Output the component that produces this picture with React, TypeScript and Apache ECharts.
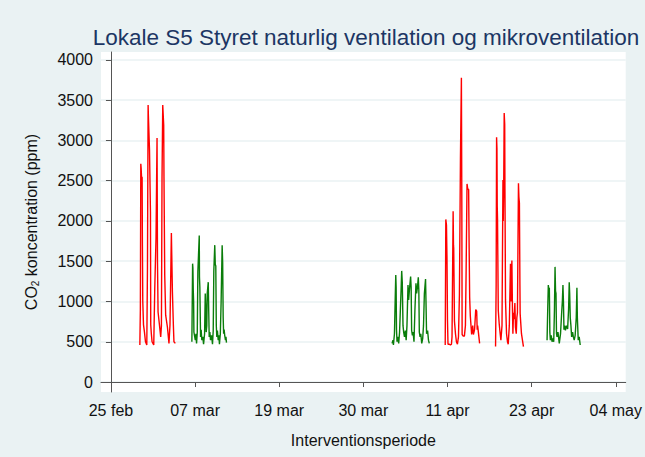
import React, { useEffect, useRef } from "react";
import * as echarts from "echarts";

// x values: days after 25 feb; y values: CO2 ppm
const tickDays = [0, 11.5, 23, 34.5, 46, 57.5, 69];
const tickLabels = ["25 feb", "07 mar", "19 mar", "30 mar", "11 apr", "23 apr", "04 may"];
const yTicks = [0, 500, 1000, 1500, 2000, 2500, 3000, 3500, 4000];

const red1 = [
  [3.95, 460], [4.02, 900], [4.08, 2710], [4.13, 2650], [4.18, 2550], [4.26, 2540], [4.3, 1700], [4.35, 1000],
  [4.45, 710], [4.58, 620], [4.72, 500], [4.9, 460], [4.99, 1410], [5.08, 3440], [5.12, 3300], [5.27, 2880],
  [5.35, 2400], [5.4, 2110], [5.44, 710], [5.52, 600], [5.62, 500], [5.85, 460], [5.99, 1170], [6.16, 1790],
  [6.3, 3030], [6.36, 1500], [6.44, 870], [6.63, 710], [6.8, 560], [6.9, 700], [6.98, 2530], [7.08, 3440],
  [7.21, 3190], [7.25, 2530], [7.35, 1330], [7.48, 830], [7.72, 680], [7.93, 480], [8.07, 710], [8.26, 1850],
  [8.4, 1120], [8.53, 710], [8.61, 500], [8.8, 480],
];
const green1 = [
  [11.06, 500], [11.16, 1470], [11.2, 1420], [11.25, 1140], [11.3, 1000], [11.34, 620], [11.45, 560], [11.53, 520],
  [11.62, 600], [11.7, 480], [11.8, 620], [11.88, 1370], [12.07, 1820], [12.1, 1300], [12.15, 1180], [12.25, 560],
  [12.33, 650], [12.42, 520], [12.55, 560], [12.66, 470], [12.8, 600], [12.89, 1100], [12.95, 950], [13.02, 620],
  [13.1, 700], [13.16, 1100], [13.3, 1240], [13.36, 900], [13.43, 560], [13.52, 620], [13.61, 520], [13.75, 580],
  [13.88, 470], [13.98, 640], [14.06, 1380], [14.19, 1700], [14.26, 1460], [14.33, 1440], [14.4, 700], [14.47, 560],
  [14.55, 640], [14.66, 520], [14.75, 580], [14.83, 470], [14.95, 600], [15.06, 1000], [15.2, 1700], [15.27, 1480],
  [15.34, 800], [15.4, 600], [15.47, 650], [15.55, 580], [15.65, 520], [15.72, 560], [15.79, 490],
];
const green2 = [
  [38.42, 480], [38.55, 520], [38.61, 460], [38.75, 600], [38.85, 1020], [38.93, 1330], [38.98, 1180], [39.03, 650],
  [39.1, 500], [39.2, 560], [39.33, 480], [39.45, 620], [39.56, 900], [39.66, 1150], [39.74, 1380], [39.82, 1240],
  [39.92, 700], [40.01, 620], [40.12, 560], [40.24, 640], [40.35, 520], [40.46, 700], [40.6, 1205], [40.69, 1020],
  [40.8, 1150], [40.96, 1310], [41.03, 1180], [41.1, 640], [41.2, 580], [41.3, 620], [41.42, 500], [41.55, 900],
  [41.69, 1226], [41.78, 1100], [41.9, 1180], [42.01, 1300], [42.08, 1150], [42.15, 620], [42.25, 560], [42.35, 600],
  [42.48, 480], [42.61, 540], [42.72, 700], [42.84, 1100], [43.0, 1280], [43.06, 1000], [43.14, 600], [43.28, 640],
  [43.4, 520], [43.51, 480],
];
const red2 = [
  [45.69, 460], [45.77, 2020], [45.82, 1980], [45.86, 1950], [45.93, 1540], [46.0, 760], [46.07, 470], [46.27, 470],
  [46.4, 460], [46.54, 470], [46.62, 560], [46.77, 2120], [46.82, 1700], [46.85, 1660], [46.95, 760], [47.09, 600],
  [47.22, 500], [47.36, 470], [47.5, 560], [47.63, 1085], [47.77, 2780], [47.9, 3780], [47.96, 2180], [48.0, 590],
  [48.15, 570], [48.31, 570], [48.45, 700], [48.54, 1330], [48.67, 2460], [48.76, 2400], [48.89, 2390], [48.95, 1750],
  [49.03, 1050], [49.12, 820], [49.3, 590], [49.45, 700], [49.54, 590], [49.7, 650], [49.86, 900], [49.99, 880],
  [50.06, 650], [50.12, 700], [50.22, 620], [50.39, 480],
];
const red3 = [
  [52.57, 440], [52.65, 1200], [52.71, 3040], [52.76, 2900], [52.8, 2180], [52.84, 2020], [52.94, 890], [53.07, 720],
  [53.2, 600], [53.3, 520], [53.45, 700], [53.58, 2510], [53.62, 2000], [53.68, 2400], [53.75, 3340], [53.82, 3200],
  [53.85, 2430], [53.93, 1020], [54.07, 600], [54.2, 500], [54.3, 470], [54.45, 700], [54.61, 1470], [54.7, 1000],
  [54.8, 1510], [54.88, 900], [54.94, 600], [55.02, 860], [55.1, 780], [55.21, 980], [55.29, 680], [55.4, 600],
  [55.48, 800], [55.56, 860], [55.7, 2470], [55.76, 2300], [55.83, 2220], [55.9, 1200], [55.93, 850], [56.11, 600],
  [56.38, 440],
];
const green3 = [
  [59.61, 520], [59.7, 900], [59.78, 1205], [59.85, 1150], [59.92, 1170], [59.99, 620], [60.06, 520], [60.18, 580],
  [60.29, 500], [60.4, 540], [60.52, 500], [60.62, 900], [60.7, 1430], [60.77, 1130], [60.83, 1100], [60.9, 600],
  [60.97, 560], [61.1, 620], [61.28, 480], [61.45, 600], [61.61, 870], [61.7, 1000], [61.78, 1205], [61.85, 1000],
  [61.92, 650], [62.0, 700], [62.12, 640], [62.25, 700], [62.42, 660], [62.55, 900], [62.64, 1240], [62.7, 1100],
  [62.78, 800], [62.87, 700], [62.97, 560], [63.1, 620], [63.2, 560], [63.32, 520], [63.45, 580], [63.6, 800],
  [63.69, 1170], [63.75, 800], [63.87, 520], [64.0, 560], [64.14, 460],
];

const redClusters = [red1, red2, red3];
const greenClusters = [green1, green2, green3];

function joinClusters(clusters: number[][][]) {
  const out: any[] = [];
  clusters.forEach((c, i) => {
    if (i > 0) out.push([(c[0][0] + out[out.length - 1][0]) / 2, "-"]);
    c.forEach((p) => out.push(p));
  });
  return out;
}

const FONT = "'Liberation Sans', Arial, sans-serif";

export default function App() {
  const ref = useRef<HTMLDivElement>(null);
  useEffect(() => {
    if (!ref.current) return;
    const chart = echarts.init(ref.current, undefined, { renderer: "svg" });
    chart.setOption({
      animation: false,
      backgroundColor: "#EAF2F3",
      textStyle: { fontFamily: FONT },
      title: {
        text: "Lokale S5 Styret naturlig ventilation og mikroventilation",
        left: 361,
        textAlign: "center",
        top: 21,
        textStyle: { fontFamily: FONT, fontSize: 22.5, fontWeight: "normal", color: "#1c3664" },
      },
      grid: {
        left: 101,
        right: 17,
        top: 52,
        bottom: 65,
        show: true,
        backgroundColor: "#ffffff",
        borderWidth: 0,
      },
      xAxis: {
        type: "value",
        min: -1.36,
        max: 70.36,
        name: "Interventionsperiode",
        nameLocation: "middle",
        nameGap: 40,
        nameTextStyle: { fontFamily: FONT, fontSize: 16, color: "#111" },
        axisLine: { show: true, lineStyle: { color: "#555", width: 1 } },
        axisTick: { show: true, length: 5, lineStyle: { color: "#555" }, customValues: tickDays },
        axisLabel: {
          customValues: tickDays,
          fontFamily: FONT,
          fontSize: 16,
          color: "#111",
          margin: 10,
          formatter: (v: number) => {
            let best = 0;
            tickDays.forEach((d, i) => {
              if (Math.abs(d - v) < Math.abs(tickDays[best] - v)) best = i;
            });
            return tickLabels[best];
          },
        },
        splitLine: { show: false },
      },
      yAxis: {
        type: "value",
        min: -124,
        max: 4099,
        name: "CO{s|2} koncentration (ppm)",
        nameLocation: "middle",
        nameGap: 61,
        nameTextStyle: {
          fontFamily: FONT,
          fontSize: 16,
          color: "#111",
          rich: { s: { fontFamily: FONT, fontSize: 10, color: "#111", padding: [8, 0, 0, 0] } },
        },
        axisLine: { show: true, lineStyle: { color: "#555", width: 1 } },
        axisTick: { show: true, length: 5, lineStyle: { color: "#555" }, customValues: yTicks },
        axisLabel: {
          customValues: yTicks,
          fontFamily: FONT,
          fontSize: 16,
          color: "#111",
          margin: 8,
          formatter: (v: number) => String(Math.round(v)),
        },
        splitLine: { show: true, lineStyle: { color: "#EAF2F3", width: 1.5 } },
      },
      series: [
        {
          name: "naturlig ventilation",
          type: "line",
          data: joinClusters(redClusters),
          showSymbol: false,
          connectNulls: false,
          lineStyle: { color: "#ff0000", width: 1.4 },
          itemStyle: { color: "#ff0000" },
        },
        {
          name: "mikroventilation",
          type: "line",
          data: joinClusters(greenClusters),
          showSymbol: false,
          connectNulls: false,
          lineStyle: { color: "#0a7d0a", width: 1.4 },
          itemStyle: { color: "#0a7d0a" },
        },
      ],
    });
    return () => chart.dispose();
  }, []);
  return <div ref={ref} style={{ position: "fixed", left: 0, top: 0, width: 645, height: 457 }} />;
}
